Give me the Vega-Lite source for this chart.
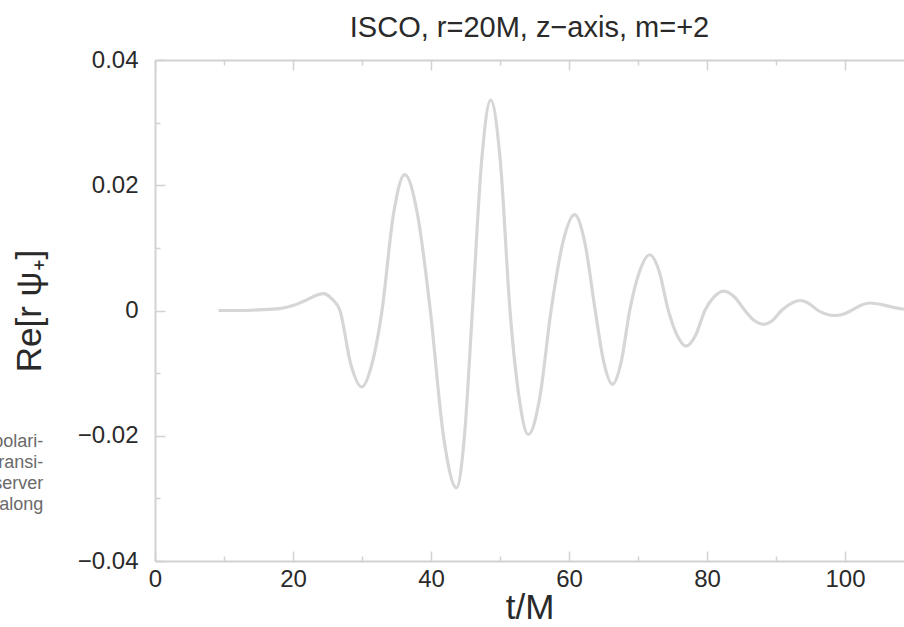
{
  "$schema": "https://vega.github.io/schema/vega-lite/v6.json",
  "width": 749,
  "height": 501,
  "autosize": {"type": "none"},
  "padding": {"left": 155, "top": 60, "right": 0, "bottom": 66},
  "background": "white",
  "config": {
    "view": {"stroke": null},
    "font": "Liberation Sans",
    "axis": {
      "domainColor": "#d2d2d2",
      "tickColor": "#d2d2d2",
      "domainWidth": 2,
      "tickWidth": 1.5,
      "grid": false,
      "labelFont": "Liberation Sans",
      "labelFontSize": 24,
      "labelColor": "#2a2a2a",
      "titleFont": "Liberation Sans",
      "titleFontSize": 35,
      "titleFontWeight": "normal",
      "titleColor": "#2a2a2a",
      "labelOverlap": false,
      "labelFlush": false
    }
  },
  "title": {
    "text": "ISCO, r=20M, z−axis, m=+2",
    "font": "Liberation Sans",
    "fontSize": 29,
    "fontWeight": "normal",
    "color": "#2a2a2a",
    "offset": 5,
    "anchor": "middle"
  },
  "resolve": {"axis": {"x": "independent"}},
  "layer": [
    {
      "data": {
        "values": [
          {"t": 9.2, "v": 0},
          {"t": 12, "v": 0},
          {"t": 15, "v": 0.0001},
          {"t": 18, "v": 0.0003},
          {"t": 20, "v": 0.0008},
          {"t": 22, "v": 0.0017},
          {"t": 23.3, "v": 0.0024},
          {"t": 24.4, "v": 0.0027},
          {"t": 25.6, "v": 0.0019},
          {"t": 26.8, "v": 0},
          {"t": 28.38, "v": -0.0086},
          {"t": 29.96, "v": -0.0122},
          {"t": 31.43, "v": -0.0086},
          {"t": 32.9, "v": 0},
          {"t": 34.55, "v": 0.0153},
          {"t": 36.2, "v": 0.0217},
          {"t": 38.05, "v": 0.0153},
          {"t": 39.9, "v": 0},
          {"t": 41.8, "v": -0.02},
          {"t": 43.7, "v": -0.0283},
          {"t": 44.85, "v": -0.02},
          {"t": 46.0, "v": 0},
          {"t": 47.33, "v": 0.0238},
          {"t": 48.65, "v": 0.0336},
          {"t": 50.05, "v": 0.0238},
          {"t": 51.45, "v": 0},
          {"t": 52.78, "v": -0.014},
          {"t": 54.1, "v": -0.0198},
          {"t": 55.75, "v": -0.014},
          {"t": 57.4, "v": 0},
          {"t": 59.1, "v": 0.0108},
          {"t": 60.8, "v": 0.0153},
          {"t": 62.3, "v": 0.0108},
          {"t": 63.8, "v": 0},
          {"t": 65.05, "v": -0.0083},
          {"t": 66.3, "v": -0.0118},
          {"t": 67.55, "v": -0.0083},
          {"t": 68.8, "v": 0},
          {"t": 70.25, "v": 0.0063},
          {"t": 71.7, "v": 0.0089},
          {"t": 73.05, "v": 0.0063},
          {"t": 74.4, "v": 0},
          {"t": 75.68, "v": -0.004},
          {"t": 76.96, "v": -0.0057},
          {"t": 78.33, "v": -0.004},
          {"t": 79.7, "v": 0},
          {"t": 81.05, "v": 0.0022},
          {"t": 82.4, "v": 0.0031},
          {"t": 83.95, "v": 0.0022},
          {"t": 85.5, "v": 0},
          {"t": 86.85, "v": -0.0016},
          {"t": 88.2, "v": -0.0022},
          {"t": 89.5, "v": -0.0016},
          {"t": 90.8, "v": 0},
          {"t": 92.15, "v": 0.0011},
          {"t": 93.5, "v": 0.0016},
          {"t": 94.8, "v": 0.0011},
          {"t": 96.1, "v": 0},
          {"t": 97.33, "v": -0.0006},
          {"t": 98.55, "v": -0.0008},
          {"t": 99.73, "v": -0.0006},
          {"t": 100.9, "v": 0},
          {"t": 102.25, "v": 0.0008},
          {"t": 103.6, "v": 0.0012},
          {"t": 105.5, "v": 0.0009},
          {"t": 107, "v": 0.0005},
          {"t": 108.55, "v": 0.0002}
        ]
      },
      "mark": {"type": "line", "interpolate": "monotone", "color": "#d6d6d6", "strokeWidth": 3.2, "clip": true},
      "encoding": {
        "x": {
          "field": "t",
          "type": "quantitative",
          "scale": {"domain": [0, 108.55], "nice": false, "zero": false},
          "axis": {
            "orient": "bottom",
            "title": "t/M",
            "values": [0, 10, 20, 30, 40, 50, 60, 70, 80, 90, 100],
            "labelExpr": "datum.value % 20 === 0 ? datum.label : ''",
            "tickSize": {"condition": {"test": "datum.value % 20 === 0", "value": -10}, "value": -5},
            "labelPadding": 16,
            "titlePadding": -6
          }
        },
        "y": {
          "field": "v",
          "type": "quantitative",
          "scale": {"domain": [-0.04, 0.04], "nice": false, "zero": false},
          "axis": {
            "title": "Re[r ψ₊]",
            "values": [-0.04, -0.03, -0.02, -0.01, 0, 0.01, 0.02, 0.03, 0.04],
            "format": ".2f",
            "labelExpr": "datum.value === 0 ? '0' : (abs(round(datum.value * 100)) % 2 === 0 ? datum.label : '')",
            "tickSize": {"condition": {"test": "abs(round(datum.value * 100)) % 2 === 0", "value": -10}, "value": -5},
            "labelPadding": 27,
            "titlePadding": 30
          }
        }
      }
    },
    {
      "data": {
        "values": [
          {"t": -16.2, "v": -0.0210, "txt": "polari-"},
          {"t": -16.2, "v": -0.0244, "txt": "ransi-"},
          {"t": -16.2, "v": -0.0277, "txt": "server"},
          {"t": -16.2, "v": -0.0311, "txt": "along"}
        ]
      },
      "mark": {"type": "text", "align": "right", "baseline": "middle", "font": "Liberation Sans Narrow, Liberation Sans", "fontSize": 18, "color": "#6a6a6a"},
      "encoding": {
        "x": {
          "field": "t",
          "type": "quantitative",
          "scale": {"domain": [0, 108.55], "nice": false, "zero": false},
          "axis": {
            "orient": "top",
            "title": null,
            "labels": false,
            "values": [0, 10, 20, 30, 40, 50, 60, 70, 80, 90, 100],
            "tickSize": {"condition": {"test": "datum.value % 20 === 0", "value": -10}, "value": -5}
          }
        },
        "y": {"field": "v", "type": "quantitative"},
        "text": {"field": "txt"}
      }
    }
  ]
}
